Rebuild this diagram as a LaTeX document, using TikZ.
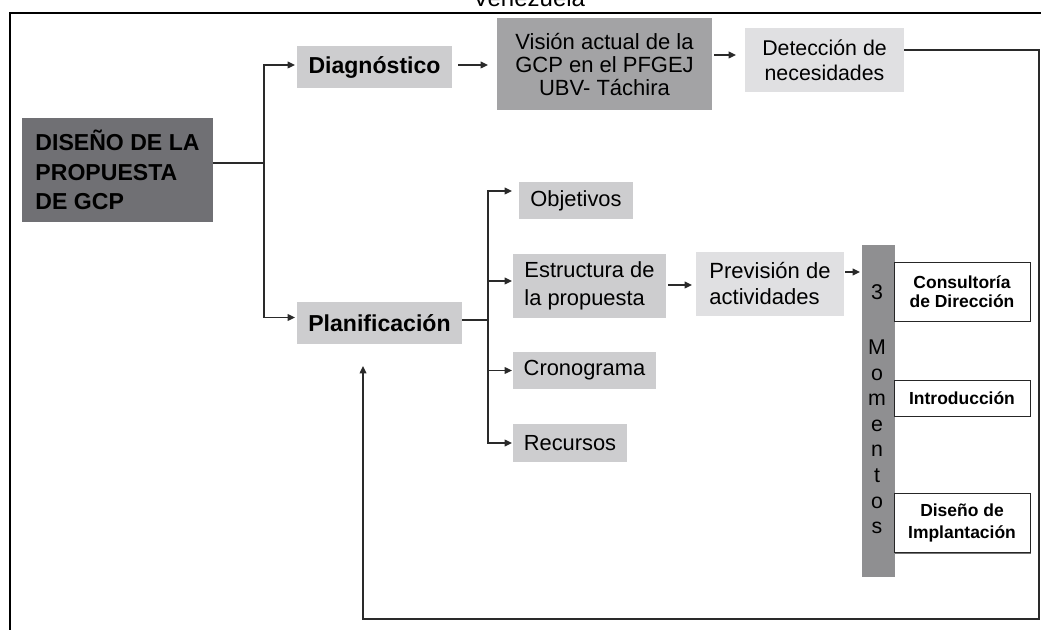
\documentclass[tikz,border=0pt]{standalone}
\usepackage{fontspec}
\setmainfont{Liberation Sans}
\usetikzlibrary{arrows.meta,calc,shadows}
\definecolor{dkg}{HTML}{707074}
\definecolor{mdg}{HTML}{A3A3A5}
\definecolor{brg}{HTML}{8F8F91}
\definecolor{lg}{HTML}{CDCDCF}
\definecolor{xlg}{HTML}{E0E0E2}
\definecolor{lnc}{HTML}{2A2A2A}
\begin{document}
\begin{tikzpicture}[x=0.75pt,y=-0.75pt,
  box/.style={rectangle, inner sep=0pt, outer sep=0pt, text=black},
  sz/.style 2 args={minimum width={#1*0.75pt},minimum height={#2*0.75pt}},
  bigb/.style={font=\fontsize{17.3}{22.1}\selectfont\bfseries},
  reg/.style={font=\fontsize{16.4}{21}\selectfont},
  smb/.style={font=\fontsize{13.1}{14.5}\selectfont\bfseries},
  wbox/.style={box, fill=white, draw=black!85, line width=0.6pt, align=center,
    drop shadow={shadow xshift=0.9pt, shadow yshift=-0.9pt, fill=black!55, opacity=1}},
  barlet/.style={anchor=base, inner sep=0pt, font=\fontsize{16}{18}\selectfont},
  conn/.style={draw=lnc, line width=1pt},
  arr/.style={conn, -{Triangle[length=5.5pt,width=5pt]}},
  framel/.style={draw=black, line width=1.8pt}
]
\useasboundingbox (0,0) rectangle (1041,630);

% frame
\draw[framel] (10,632) -- (10,13) -- (1043,13);

\node[anchor=base, inner sep=0pt, font=\fontsize{18}{20}\selectfont] (ven) at (529,7) {Venezuela};

% nodes
\node[box, fill=dkg, sz={191}{104}, bigb, align=left] (dis) at (117.5,170) {DISEÑO DE LA\\PROPUESTA\\DE GCP};
\node[box, fill=lg, sz={155}{42}, bigb] (diag) at (374.5,67.5) {Diagnóstico};
\node[box, fill=mdg, sz={215}{92}, align=center, font=\fontsize{16.5}{16.9}\selectfont] (vis) at (604.5,64.5) {Visión actual de la\\GCP en el PFGEJ\\UBV- Táchira};
\node[box, fill=xlg, sz={159}{64}, align=center, font=\fontsize{16}{18.75}\selectfont] (det) at (824.5,60) {Detección de\\necesidades};
\node[box, fill=lg, sz={165}{42}, bigb] (plan) at (379.5,323) {Planificación};
\node[box, fill=lg, sz={114}{37}, reg] (obj) at (576,200.5) {Objetivos};
\node[box, fill=lg, sz={153}{64}, reg, align=left] (est) at (589.5,286) {Estructura de\\la propuesta};
\node[box, fill=lg, sz={143}{37}, reg] (cro) at (584.5,370.5) {Cronograma};
\node[box, fill=lg, sz={114}{38}, reg] (rec) at (570,443) {Recursos};
\node[box, fill=xlg, sz={148}{64}, align=left, font=\fontsize{16.5}{19.5}\selectfont] (prev) at (770,284) {Previsión de\\actividades};
\node[box, fill=brg, sz={33}{332}] (bar) at (878.5,411) {};
\node[barlet] (n3) at (877,299.5) {3};
\foreach \l [count=\i] in {M,o,m,e,n,t,o,s}
  \node[barlet] (m\i) at (877,{354.5+25.6*(\i-1)}) {\l};
\node[wbox, sz={136}{59}, smb] (cons) at (962,291.5) {Consultoría\\de Dirección};
\node[wbox, sz={136}{36}, smb] (intro) at (962,398) {Introducción};
\node[wbox, sz={136}{59}, smb, font=\fontsize{13.1}{16.5}\selectfont\bfseries] (dimp) at (962,523) {Diseño de\\Implantación};

% connectors
\coordinate (j1) at (264,163);
\draw[conn] (dis.east |- j1) -- (j1);
\draw[arr, shorten >=1.5pt] (j1) |- ($(diag.west)+(0,-2.5)$);
\draw[arr, shorten >=1.5pt] (j1) |- ($(plan.west)+(0,-5.5)$);
\draw[arr, shorten <=4.5pt, shorten >=6.75pt] ($(diag.east)+(0,-2.5)$) -- ($(diag.east -| vis.west)+(0,-2.5)$);
\draw[arr, shorten <=1.5pt, shorten >=6.75pt] ($(vis.east)+(0,-9.5)$) -- ($(vis.east -| det.west)+(0,-9.5)$);

\coordinate (lp1) at (1039,619);
\coordinate (lp2) at (363,619);
\coordinate (lp3) at (363,366);
\draw[arr] ($(det.east)+(0,-10)$) -| (lp1) -- (lp2) -- (lp3);

\coordinate (j2) at (488,320);
\draw[conn] (plan.east |- j2) -- (j2);
\draw[arr, shorten >=5.25pt] (j2) |- ($(obj.west)+(0,-9.5)$);
\draw[arr, shorten >=0.75pt] (j2) |- ($(est.west)+(0,-5)$);
\draw[arr, shorten >=0.75pt] (j2) |- (cro.west);
\draw[arr, shorten >=0.75pt] (j2) |- (rec.west);
\draw[arr, shorten <=1.5pt, shorten >=3pt] ($(est.east)+(0,-1)$) -- ($(est.east -| prev.west)+(0,-1)$);
\draw[arr, shorten <=0.75pt, shorten >=1.5pt] ($(prev.east)+(0,-12)$) -- ($(prev.east -| bar.west)+(0,-12)$);
\end{tikzpicture}
\end{document}
